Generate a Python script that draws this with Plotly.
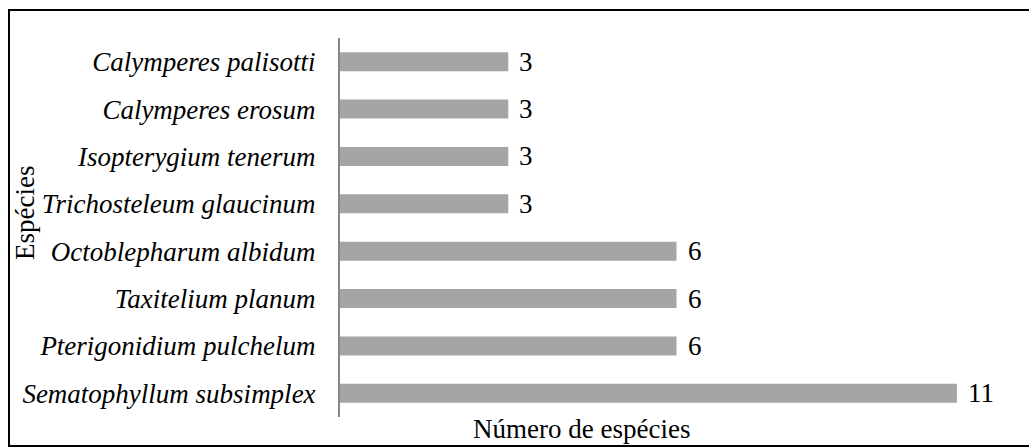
import plotly.graph_objects as go

species = [
    "Sematophyllum subsimplex",
    "Pterigonidium pulchelum",
    "Taxitelium planum",
    "Octoblepharum albidum",
    "Trichosteleum glaucinum",
    "Isopterygium tenerum",
    "Calymperes erosum",
    "Calymperes palisotti",
]
counts = [11, 6, 6, 6, 3, 3, 3, 3]

FONT = "Liberation Serif, Times New Roman, serif"
FS = 27
W, H = 1029, 447
ML, MR, MT, MB = 340, 16, 38, 30
pw = W - ML - MR
ph = H - MT - MB

fig = go.Figure(
    go.Bar(
        x=counts,
        y=species,
        orientation="h",
        marker=dict(color="#A5A5A5", line=dict(width=0)),
        width=0.4,
        hoverinfo="skip",
    )
)

# value labels to the right of each bar
for s, c in zip(species, counts):
    fig.add_annotation(
        x=c, y=s, xref="x", yref="y", text=str(c), showarrow=False,
        xanchor="left", yanchor="middle", xshift=9,
        font=dict(family=FONT, size=FS, color="#000000"),
    )

# y-axis title
fig.add_annotation(
    x=(25 - ML) / pw, y=1 - (213 - MT) / ph, xref="paper", yref="paper",
    text="Espécies", textangle=-90, showarrow=False,
    xanchor="center", yanchor="middle",
    font=dict(family=FONT, size=FS, color="#000000"),
)
# x-axis title, tucked just above the frame's bottom edge
fig.add_annotation(
    x=(581 - ML) / pw, y=-(445 - (MT + ph)) / ph, xref="paper", yref="paper",
    text="Número de espécies", showarrow=False,
    xanchor="center", yanchor="bottom", borderpad=0,
    font=dict(family=FONT, size=FS, color="#000000"),
)

# outer frame
fig.add_shape(
    type="rect", xref="paper", yref="paper",
    x0=(9 - ML) / pw, x1=(1040 - ML) / pw,
    y0=-(446 - (MT + ph)) / ph, y1=1 + (MT - 10) / ph,
    line=dict(color="#000000", width=2), fillcolor="rgba(0,0,0,0)", layer="above",
)

fig.update_layout(
    width=W, height=H,
    margin=dict(l=ML, r=MR, t=MT, b=MB),
    paper_bgcolor="white", plot_bgcolor="white",
    showlegend=False,
    xaxis=dict(range=[0, 12], visible=False, fixedrange=True),
    yaxis=dict(
        type="category", range=[-0.5, 7.5],
        showline=True, linecolor="#868686", linewidth=2,
        showgrid=False, zeroline=False, ticks="", ticklen=0,
        ticklabelstandoff=17,
        tickfont=dict(family=FONT, size=FS, color="#000000", style="italic"),
    ),
)

fig.write_html("out.html")
